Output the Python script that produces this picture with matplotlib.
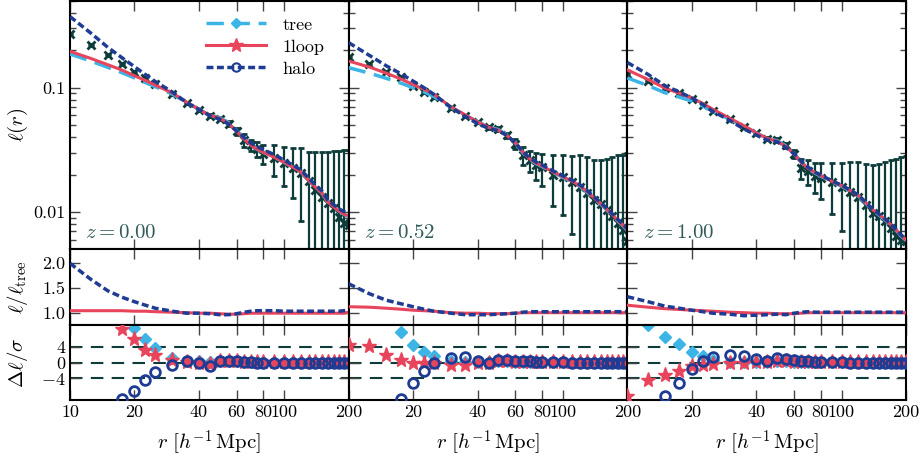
import numpy as np
import matplotlib
matplotlib.use('Agg')
import matplotlib.pyplot as plt
from matplotlib.lines import Line2D
from matplotlib.ticker import FixedLocator, NullLocator, LogLocator, NullFormatter

plt.rcParams['font.family'] = 'serif'
plt.rcParams['font.serif'] = ['cmr10']
plt.rcParams['mathtext.fontset'] = 'cm'
plt.rcParams['axes.unicode_minus'] = False
plt.rcParams['axes.formatter.use_mathtext'] = True

# separation grid [h^-1 Mpc]
r = [10, 12.5, 15, 17.5, 20, 22.5, 25, 30, 35, 40, 45, 50, 55, 60, 65, 70, 75, 80,
     90, 100, 110, 120, 130, 140, 150, 160, 170, 180, 190, 200]

redshifts = ['0.00', '0.52', '1.00']

# measured l(r) and errors
data_z0 = [0.27, 0.221, 0.184, 0.156, 0.134, 0.120, 0.108, 0.0895, 0.0759, 0.0667, 0.0597, 0.0565,
           0.0515, 0.0445, 0.038, 0.0344, 0.0319, 0.0293, 0.027, 0.0248, 0.0227, 0.0205, 0.0178,
           0.015, 0.0132, 0.0118, 0.0108, 0.0091, 0.0082, 0.0079]
sig_z0 = [0.004, 0.003, 0.0025, 0.002, 0.0018, 0.0016, 0.0015, 0.0014, 0.0013, 0.0012, 0.0015,
          0.002, 0.0025, 0.003, 0.0044, 0.0035, 0.0044, 0.0052, 0.0075, 0.0085, 0.0098, 0.012,
          0.0128, 0.0152, 0.017, 0.0184, 0.020, 0.0217, 0.0232, 0.0235]
data_z1 = [0.177, 0.155, 0.133, 0.121, 0.104, 0.0917, 0.0837, 0.0688, 0.0597, 0.0527, 0.048,
           0.0467, 0.0413, 0.0354, 0.0286, 0.026, 0.024, 0.0228, 0.020, 0.019, 0.0175, 0.016,
           0.0141, 0.0125, 0.0116, 0.0104, 0.0092, 0.0081, 0.0072, 0.0058]
sig_z1 = [0.003, 0.0025, 0.002, 0.0018, 0.0015, 0.0013, 0.0012, 0.001, 0.001, 0.001, 0.0012,
          0.0015, 0.002, 0.003, 0.0048, 0.0052, 0.006, 0.0067, 0.0088, 0.0095, 0.0108, 0.0126,
          0.0136, 0.0135, 0.0147, 0.0163, 0.0185, 0.0205, 0.0218, 0.024]
data_z2 = [0.128, 0.114, 0.0994, 0.090, 0.0812, 0.0731, 0.0655, 0.0562, 0.0487, 0.043, 0.0388,
           0.0381, 0.0344, 0.0295, 0.0225, 0.0212, 0.0195, 0.0187, 0.0173, 0.016, 0.0145, 0.0133,
           0.0114, 0.0098, 0.0092, 0.0084, 0.0074, 0.0064, 0.006, 0.0058]
sig_z2 = [0.0025, 0.002, 0.0018, 0.0016, 0.0014, 0.0012, 0.0011, 0.001, 0.0009, 0.0009, 0.001,
          0.0012, 0.0015, 0.0022, 0.004, 0.0048, 0.0052, 0.006, 0.0077, 0.009, 0.0108, 0.012,
          0.0131, 0.014, 0.0153, 0.0169, 0.019, 0.0205, 0.0217, 0.0222]

# tree-level model
tree_z0 = [0.187, 0.164, 0.146, 0.132, 0.120, 0.110, 0.102, 0.089, 0.076, 0.067, 0.060, 0.0575,
           0.0525, 0.0453, 0.039, 0.0344, 0.0319, 0.0302, 0.0275, 0.0251, 0.0229, 0.0209, 0.0180,
           0.0158, 0.0142, 0.0120, 0.0110, 0.0102, 0.0096, 0.0091]
tree_z1 = [0.145, 0.131, 0.119, 0.109, 0.100, 0.0925, 0.085, 0.0695, 0.0605, 0.053, 0.0485, 0.046,
           0.0415, 0.036, 0.030, 0.0265, 0.0245, 0.0232, 0.0208, 0.0190, 0.0176, 0.0161, 0.0144,
           0.0128, 0.0116, 0.0104, 0.0094, 0.0085, 0.0078, 0.0071]
tree_z2 = [0.120, 0.104, 0.091, 0.084, 0.078, 0.0712, 0.0647, 0.0558, 0.049, 0.0433, 0.039, 0.0375,
           0.034, 0.0295, 0.025, 0.0222, 0.0206, 0.0194, 0.0175, 0.0161, 0.0147, 0.0134, 0.0117,
           0.0103, 0.0094, 0.0086, 0.0078, 0.0071, 0.0064, 0.0059]

# ratios to tree (middle row)
loop_ratio_z0 = [1.05, 1.05, 1.05, 1.05, 1.04, 1.04, 1.03, 1.02, 1.01, 1.0, 1.0, 0.99, 0.98, 0.98,
                 0.99, 1.0, 1.0, 1.0, 1.0, 1.0, 1.0, 1.0, 1.0, 1.0, 1.0, 1.0, 1.0, 1.0, 1.0, 1.02]
halo_ratio_z0 = [2.0, 1.68, 1.45, 1.32, 1.23, 1.16, 1.10, 1.04, 1.0, 1.0, 0.99, 0.97, 0.97, 0.99,
                 1.02, 1.04, 1.05, 1.05, 1.05, 1.04, 1.04, 1.04, 1.04, 1.04, 1.04, 1.04, 1.04, 1.04,
                 1.05, 1.06]
loop_ratio_z1 = [1.13, 1.12, 1.10, 1.08, 1.06, 1.05, 1.04, 1.01, 1.0, 1.0, 0.99, 0.99, 0.99, 1.0,
                 1.01, 1.01, 1.01, 1.01, 1.01, 1.01, 1.01, 1.01, 1.01, 1.01, 1.01, 1.01, 1.01, 1.01,
                 1.01, 1.01]
halo_ratio_z1 = [1.59, 1.39, 1.26, 1.19, 1.13, 1.08, 1.04, 1.0, 0.97, 0.97, 0.97, 0.98, 0.99, 1.0,
                 1.02, 1.03, 1.03, 1.03, 1.03, 1.03, 1.03, 1.03, 1.03, 1.03, 1.03, 1.03, 1.03, 1.03,
                 1.03, 1.03]
loop_ratio_z2 = [1.16, 1.12, 1.09, 1.075, 1.06, 1.05, 1.04, 1.02, 1.01, 1.0, 1.0, 0.99, 0.99, 0.99,
                 1.0, 1.01, 1.01, 1.01, 1.01, 1.01, 1.01, 1.01, 1.01, 1.01, 1.01, 1.01, 1.01, 1.01,
                 1.01, 1.01]
halo_ratio_z2 = [1.33, 1.23, 1.14, 1.10, 1.06, 1.03, 1.0, 0.98, 0.95, 0.96, 0.97, 0.98, 0.97, 1.0,
                 1.02, 1.03, 1.02, 1.02, 1.02, 1.02, 1.02, 1.02, 1.02, 1.02, 1.02, 1.02, 1.02, 1.02,
                 1.02, 1.02]

# residuals (data - model) / sigma (bottom row)
dev_tree_z0 = [20, 18, 14, 11, 8.9, 5.9, 3.7, 1.2, 0.5, 0.3, 0.2, 0.4, 0.3, 0.3, 0.2, 0.2, 0.1, 0.1,
               0.1, 0.1, 0.1, 0.1, 0.1, 0.1, 0.1, 0.1, 0.1, 0.1, 0.1, 0.1]
dev_loop_z0 = [16, 14, 12, 8.5, 5.9, 3.25, 2.0, 0.75, 0.1, -0.2, -0.3, 0.5, 0.4, 0.3, 0.2, 0.2, 0.2,
               0.2, 0.2, 0.2, 0.2, 0.2, 0.2, 0.2, 0.2, 0.2, 0.2, 0.2, 0.2, 0.2]
dev_halo_z0 = [-20, -17, -13, -9.3, -7.2, -4.5, -2.4, -0.7, 0.3, -0.1, -0.75, 0.3, 0.4, 0.3, 0.1,
               0.1, 0.0, 0.0, 0.0, 0.0, 0.0, 0.0, 0.0, 0.0, 0.0, 0.0, 0.0, 0.0, 0.0, 0.0]
dev_tree_z1 = [18, 15, 11, 7.8, 4.5, 2.8, 1.6, 0.3, 0.2, 0.1, 0.1, 0.4, 0.4, 0.2, 0.2, 0.1, 0.1, 0.1,
               0.1, 0.1, 0.1, 0.1, 0.1, 0.1, 0.1, 0.1, 0.1, 0.1, 0.1, 0.1]
dev_loop_z1 = [4.5, 4.1, 2.0, 0.75, -0.1, -0.1, 0.0, -0.5, -0.5, 0.0, 0.0, 0.3, 0.3, 0.2, 0.1, 0.1,
               0.1, 0.1, 0.1, 0.1, 0.1, 0.1, 0.1, 0.1, 0.1, 0.1, 0.1, 0.1, 0.1, 0.1]
dev_halo_z1 = [-20, -16, -12, -9.3, -5.1, -2.2, 0.0, 1.2, 1.4, 0.5, -0.1, 0.75, 0.75, 0.5, 0.3, 0.3,
               0.2, 0.2, 0.1, 0.1, 0.0, 0.0, 0.0, 0.0, 0.0, 0.0, 0.0, 0.0, 0.0, 0.0]
dev_tree_z2 = [14, 9.5, 6.4, 4.7, 2.6, 1.6, 0.75, 0.2, 0.2, 0.1, 0.1, 0.3, 0.3, 0.2, 0.1, 0.1, 0.1,
               0.1, 0.1, 0.1, 0.1, 0.1, 0.1, 0.1, 0.1, 0.1, 0.1, 0.1, 0.1, 0.1]
dev_loop_z2 = [-8.4, -4.5, -3.25, -2.2, -0.9, -0.5, -0.25, 0.0, 0.0, 0.1, 0.1, 0.3, 0.3, 0.2, 0.1,
               0.1, 0.1, 0.1, 0.1, 0.1, 0.1, 0.1, 0.1, 0.1, 0.1, 0.1, 0.1, 0.1, 0.1, 0.1]
dev_halo_z2 = [-18, -13, -8.4, -5.1, -1.75, 0.3, 1.4, 2.0, 1.75, 0.9, 0.5, 1.2, 0.9, 0.75, 0.4, 0.3,
               0.2, 0.2, 0.1, 0.1, 0.0, 0.0, 0.0, 0.0, 0.0, 0.0, 0.0, 0.0, 0.0, 0.0]

data = [data_z0, data_z1, data_z2]
sigma = [sig_z0, sig_z1, sig_z2]
tree = [tree_z0, tree_z1, tree_z2]
loop_ratio = [loop_ratio_z0, loop_ratio_z1, loop_ratio_z2]
halo_ratio = [halo_ratio_z0, halo_ratio_z1, halo_ratio_z2]
dev_tree = [dev_tree_z0, dev_tree_z1, dev_tree_z2]
dev_loop = [dev_loop_z0, dev_loop_z1, dev_loop_z2]
dev_halo = [dev_halo_z0, dev_halo_z1, dev_halo_z2]

xticks = [10, 20, 40, 60, 80, 100, 200]
xticklabels = ['10', '20', '40', '60', '80', '100', '200']

c_tree = '#3cb4e6'
c_loop = '#e8455d'
c_halo = '#1e3c93'
c_data = '#0d3c3a'
c_tick = '#444444'

fig = plt.figure(figsize=(9.21, 4.57), dpi=100)
gs = fig.add_gridspec(3, 3, height_ratios=[249, 76, 75], left=70/921, right=906/921,
                      top=0.998, bottom=1 - 400/457, hspace=0, wspace=0)

ls_tree = (0, (5, 2.5))
ls_halo = (0, (2, 1))

for j in range(3):
    ax0 = fig.add_subplot(gs[0, j])
    ax1 = fig.add_subplot(gs[1, j], sharex=ax0)
    ax2 = fig.add_subplot(gs[2, j], sharex=ax0)

    tr = np.array(tree[j])

    # top: l(r)
    ax0.errorbar(r, data[j], yerr=sigma[j], fmt='x', color=c_data, ms=6, mew=2,
                 elinewidth=1.6, capsize=2, capthick=1.5, zorder=2)
    ax0.plot(r, tr, color=c_tree, lw=2.5, ls=ls_tree, zorder=3)
    ax0.plot(r, tr * np.array(loop_ratio[j]), color=c_loop, lw=2.2, zorder=4)
    ax0.plot(r, tr * np.array(halo_ratio[j]), color=c_halo, lw=2.5, ls=ls_halo, zorder=5)
    ax0.set_yscale('log')
    ax0.set_ylim(0.005, 0.5)
    ax0.yaxis.set_major_locator(FixedLocator([0.01, 0.1]))
    ax0.yaxis.set_minor_locator(LogLocator(base=10, subs=np.arange(2, 10)))
    ax0.yaxis.set_minor_formatter(NullFormatter())
    ax0.set_yticklabels(['0.01', '0.1'])
    ax0.text(0.055, 0.065, r'$z = %s$' % redshifts[j], transform=ax0.transAxes,
             color='#2f5a5a', fontsize=15, va='center', ha='left')

    # middle: ratio to tree
    ax1.plot(r, loop_ratio[j], color=c_loop, lw=2.2, zorder=3)
    ax1.plot(r, halo_ratio[j], color=c_halo, lw=2.5, ls=ls_halo, zorder=4)
    ax1.set_ylim(0.76, 2.28)
    ax1.set_yticks([1.0, 1.5, 2.0])
    ax1.set_yticklabels(['1.0', '1.5', '2.0'])

    # bottom: residuals
    for h in [-4, 0, 4]:
        ax2.axhline(h, color=c_data, lw=1.5, ls=(0, (6, 4)), zorder=1)
    ax2.plot(r, dev_tree[j], 'D', color=c_tree, ms=6.5, ls='none', zorder=2)
    ax2.plot(r, dev_loop[j], '*', color=c_loop, ms=11, ls='none', zorder=3)
    ax2.plot(r, dev_halo[j], 'o', mec=c_halo, mfc='none', mew=2, ms=7, ls='none', zorder=4)
    ax2.set_ylim(-9.5, 9.5)
    ax2.set_yticks([-4, 0, 4])
    ax2.set_yticklabels(['$-4$', '0', '4'])

    for ax in (ax0, ax1, ax2):
        ax.set_xscale('log')
        ax.set_xlim(10, 200)
        ax.xaxis.set_major_locator(FixedLocator(xticks))
        ax.xaxis.set_minor_locator(NullLocator())
        ax.tick_params(which='both', direction='in', top=True, right=True, color=c_tick,
                       labelsize=13, width=1)
        ax.tick_params(which='major', length=7)
        ax.tick_params(which='minor', length=4)
        for s in ax.spines.values():
            s.set_linewidth(1.5)
        if j > 0:
            ax.tick_params(labelleft=False)

    ax0.tick_params(labelbottom=False)
    ax1.tick_params(labelbottom=False)
    labs = list(xticklabels)
    if j > 0:
        labs[0] = ''
    ax2.set_xticklabels(labs)
    ax2.set_xlabel(r'$r\ [h^{-1}\,\mathrm{Mpc}]$', fontsize=15, labelpad=6)

    if j == 0:
        ax0.set_ylabel(r'$\ell(r)$', fontsize=15)
        ax1.set_ylabel(r'$\ell/\ell_{\rm tree}$', fontsize=15)
        ax2.set_ylabel(r'$\Delta\ell/\sigma$', fontsize=15)
        for ax in (ax0, ax1, ax2):
            ax.yaxis.set_label_coords(-0.145, 0.5)
        handles = [
            Line2D([], [], color=c_tree, lw=2.5, ls=ls_tree, marker='D', ms=5),
            Line2D([], [], color=c_loop, lw=2.2, marker='*', ms=10),
            Line2D([], [], color=c_halo, lw=2.5, ls=ls_halo, marker='o', ms=6, mfc='none', mew=1.5),
        ]
        ax0.legend(handles, ['tree', '1loop', 'halo'], loc='upper right',
                   bbox_to_anchor=(0.97, 1.0), frameon=False, fontsize=13, handlelength=3.3,
                   numpoints=1, labelspacing=0.35, handletextpad=0.9)

fig.savefig('out.png', dpi=100)
